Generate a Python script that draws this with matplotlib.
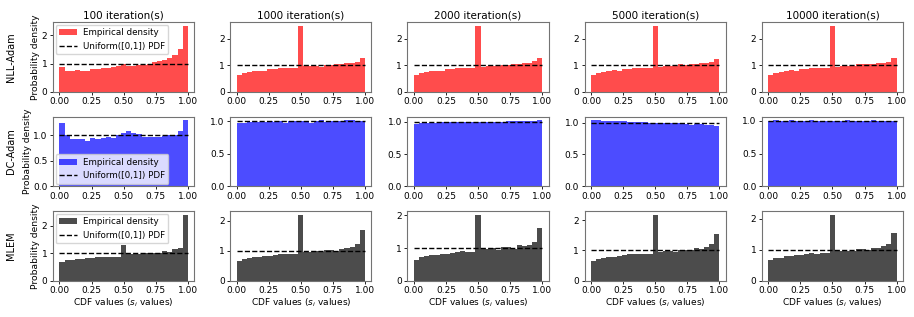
import numpy as np
import matplotlib
matplotlib.use("Agg")
import matplotlib.pyplot as plt

iterations = [100, 1000, 2000, 5000, 10000]
methods = ["NLL-Adam", "DC-Adam", "MLEM"]
colors = ["red", "blue", "black"]
n_bins = 25

# Bin densities (25 bins over [0, 1]) per method and iteration count
nll_adam = [
    [0.88, 0.73, 0.73, 0.76, 0.73, 0.73, 0.79, 0.82, 0.85, 0.85, 0.88, 0.90, 1.00,
     0.92, 0.92, 0.94, 0.96, 0.97, 1.05, 1.10, 1.12, 1.20, 1.30, 1.53, 2.35],
    [0.65, 0.72, 0.74, 0.77, 0.80, 0.78, 0.85, 0.87, 0.88, 0.88, 0.90, 0.88, 2.50,
     0.97, 0.99, 0.97, 0.95, 1.00, 1.02, 1.03, 1.05, 1.08, 1.07, 1.12, 1.28],
    [0.65, 0.72, 0.74, 0.77, 0.80, 0.78, 0.85, 0.87, 0.88, 0.88, 0.90, 0.90, 2.50,
     0.95, 0.98, 0.98, 0.97, 1.02, 1.02, 1.03, 1.05, 1.07, 1.08, 1.15, 1.28],
    [0.65, 0.72, 0.75, 0.78, 0.82, 0.80, 0.86, 0.87, 0.88, 0.89, 0.90, 0.90, 2.50,
     0.94, 0.98, 0.98, 0.96, 1.03, 1.02, 1.04, 1.05, 1.07, 1.08, 1.12, 1.25],
    [0.65, 0.72, 0.75, 0.78, 0.83, 0.80, 0.86, 0.87, 0.88, 0.90, 0.90, 0.90, 2.50,
     0.93, 0.98, 0.98, 0.97, 1.03, 1.03, 1.04, 1.05, 1.07, 1.10, 1.13, 1.28],
]
dc_adam = [
    [1.25, 1.00, 0.93, 0.93, 0.92, 0.89, 0.95, 0.93, 0.94, 0.96, 0.95, 1.00, 1.05,
     1.08, 1.04, 1.03, 0.97, 0.96, 0.96, 0.97, 0.98, 1.00, 1.00, 1.08, 1.30],
    [0.98, 0.98, 0.99, 1.00, 0.99, 0.99, 1.00, 0.99, 1.00, 0.98, 1.00, 1.00, 1.00,
     1.00, 0.98, 1.00, 1.02, 0.99, 1.01, 1.01, 1.01, 1.02, 1.02, 1.01, 1.01],
    [0.97, 0.98, 0.98, 0.99, 0.99, 1.00, 1.00, 1.00, 1.00, 1.00, 1.00, 1.00, 1.00,
     1.00, 1.00, 1.00, 1.00, 1.00, 1.01, 1.02, 1.02, 1.02, 1.02, 1.02, 1.03],
    [1.04, 1.04, 1.03, 1.03, 1.02, 1.02, 1.02, 1.01, 1.01, 1.01, 1.01, 1.00, 1.00,
     0.99, 0.99, 0.99, 0.99, 0.99, 0.98, 0.97, 0.98, 0.98, 0.97, 0.97, 0.95],
    [1.00, 1.01, 1.00, 1.00, 1.01, 1.00, 1.00, 1.00, 1.01, 1.00, 1.00, 1.00, 1.00,
     1.00, 1.00, 1.01, 1.00, 1.00, 1.00, 1.00, 1.01, 1.00, 1.00, 1.00, 1.00],
]
mlem = [
    [0.67, 0.75, 0.76, 0.79, 0.80, 0.83, 0.82, 0.88, 0.88, 0.85, 0.87, 0.86, 1.30,
     0.97, 0.97, 0.98, 1.00, 1.02, 1.00, 1.00, 1.07, 1.05, 1.15, 1.20, 2.40],
    [0.65, 0.72, 0.75, 0.78, 0.80, 0.83, 0.83, 0.87, 0.88, 0.90, 0.88, 0.89, 2.20,
     0.95, 0.97, 0.98, 0.95, 1.02, 1.03, 1.00, 1.05, 1.08, 1.12, 1.22, 1.70],
    [0.65, 0.72, 0.75, 0.78, 0.80, 0.83, 0.83, 0.86, 0.88, 0.90, 0.88, 0.89, 2.02,
     0.96, 0.97, 1.00, 0.95, 1.03, 1.03, 0.98, 1.08, 1.06, 1.10, 1.20, 1.62],
    [0.66, 0.72, 0.75, 0.78, 0.80, 0.82, 0.84, 0.87, 0.89, 0.89, 0.89, 0.90, 2.18,
     0.96, 0.97, 0.98, 0.96, 1.03, 1.03, 1.00, 1.07, 1.06, 1.10, 1.20, 1.55],
    [0.66, 0.72, 0.75, 0.79, 0.80, 0.82, 0.84, 0.87, 0.90, 0.88, 0.89, 0.90, 2.13,
     0.96, 0.96, 0.97, 0.96, 1.04, 1.04, 1.00, 1.07, 1.07, 1.11, 1.20, 1.54],
]
all_data = [nll_adam, dc_adam, mlem]
legend_locs = ["upper left", "lower left", "upper left"]

edges = np.linspace(0, 1, n_bins + 1)
centers = 0.5 * (edges[:-1] + edges[1:])

fig, axes = plt.subplots(3, 5, figsize=(9.14, 3.17), dpi=100)
fig.subplots_adjust(left=0.058, right=0.988, bottom=0.114, top=0.93,
                    wspace=0.255, hspace=0.36)

for r in range(3):
    for c in range(5):
        ax = axes[r, c]
        ax.hist(centers, bins=edges, weights=all_data[r][c], color=colors[r],
                alpha=0.7, label="Empirical density")
        ax.plot([0, 1], [1, 1], "k--", lw=1.0, label="Uniform([0,1]) PDF")
        ax.tick_params(labelsize=6.5, length=2.5, width=0.6, pad=1.5)
        for s in ax.spines.values():
            s.set_color("0.45")
            s.set_linewidth(0.8)
        ax.set_xticks([0, 0.25, 0.5, 0.75, 1.0])
        if r == 0:
            ax.set_title(f"{iterations[c]} iteration(s)", fontsize=7.5, pad=3)
        if r == 2:
            ax.set_xlabel("CDF values ($s_i$ values)", fontsize=6.5, labelpad=1)
        if c == 0:
            ax.set_ylabel("Probability density", fontsize=6.6, labelpad=1)
            ax.legend(loc=legend_locs[r], fontsize=6.3, borderaxespad=0.3,
                      handletextpad=0.7)
    pos = axes[r, 0].get_position()
    fig.text(0.012, (pos.y0 + pos.y1) / 2, methods[r], rotation=90,
             ha="center", va="center", fontsize=7)

fig.savefig("out.png", dpi=100)
